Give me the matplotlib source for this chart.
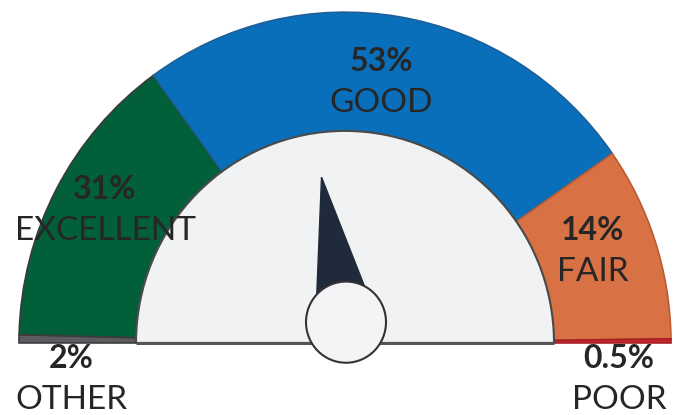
import numpy as np
import matplotlib
matplotlib.use("Agg")
import matplotlib.pyplot as plt
from matplotlib.patches import Wedge, Circle, Polygon

# gauge segments, left to right
names = ["OTHER", "EXCELLENT", "GOOD", "FAIR", "POOR"]
pct_text = ["2%", "31%", "53%", "14%", "0.5%"]
# share of the half circle each segment takes up as drawn (percent of gauge)
arc_share = [0.8, 29.2, 50.6, 19.0, 0.4]
colors = ["#5b5b60", "#015f3a", "#0a6fba", "#d87143", "#c1272d"]
edges = ["#3b3b3b", "#3b3b3b", "#1d5e98", "#b95c35", "#a81e23"]
needle_value = 44.6  # percent of gauge from the left

# label block centres (x, y of the name line), centre of gauge at 0,0
label_pos = [(-274, -56), (-240, 110), (36, 236), (248, 70), (274, -56)]

R_OUT = 326
R_IN = 209

fig = plt.figure(figsize=(6.9, 4.15), dpi=100)
ax = fig.add_axes([0, 0, 1, 1])
ax.set_xlim(-345, 345)
# the reference is stretched a little vertically
ax.set_ylim(-71, 338)
ax.axis("off")

start = 180.0
for share, c, e in zip(arc_share, colors, edges):
    span = share * 1.8
    w = Wedge((0, 0), R_OUT, start - span, start, width=R_OUT - R_IN,
              facecolor=c, edgecolor=e, linewidth=1.2, zorder=2)
    ax.add_patch(w)
    start -= span

# inner face
ax.add_patch(Wedge((0, 0), R_IN, 0, 180, facecolor="#f1f2f4",
                   edgecolor="#4a4a4a", linewidth=1.5, zorder=3))
ax.plot([-R_IN, R_IN], [0, 0], color="#555555", linewidth=2.2, zorder=4,
        solid_capstyle="butt")

# needle
hub = np.array([1.0, 20.5])
a = np.radians(180 - needle_value * 1.8)
u = np.array([np.cos(a), np.sin(a)])
n = np.array([np.sin(a), -np.cos(a)])
tip = hub + 145 * u
ax.add_patch(Polygon([tip, hub + 31 * n, hub - 31 * n], closed=True,
                     facecolor="#1f2a3b", edgecolor="#1f2a3b", linewidth=1, zorder=5))
ax.add_patch(Circle(hub, 40, facecolor="#f4f4f6", edgecolor="#333333",
                    linewidth=1.5, zorder=6))

txt_color = "#262626"
for name, pct, (x, y) in zip(names, pct_text, label_pos):
    ax.text(x, y + 41, pct, ha="center", va="center", fontsize=23,
            fontweight="bold", color=txt_color, family="Lato", zorder=7)
    ax.text(x, y, name, ha="center", va="center", fontsize=24,
            fontweight="normal", color=txt_color, family="Lato", zorder=7)

fig.savefig("out.png", dpi=100)
